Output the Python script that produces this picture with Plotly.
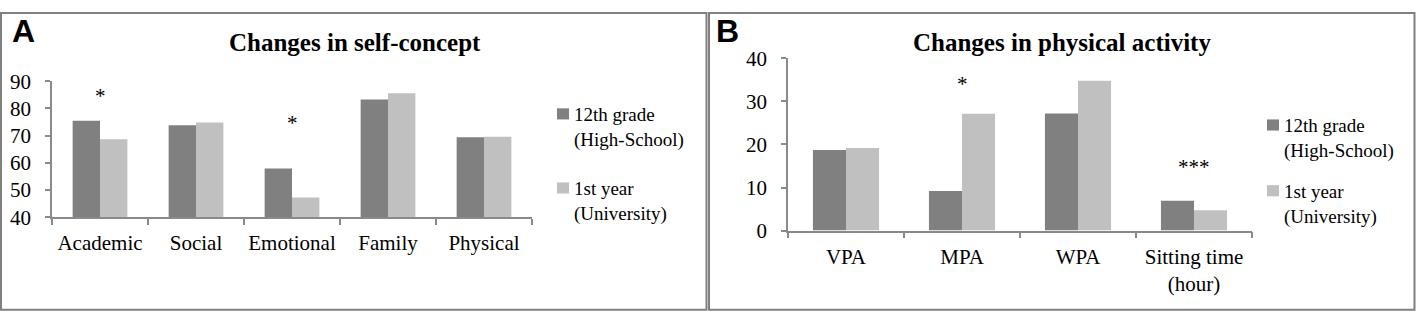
import plotly.graph_objects as go

W, H = 1417, 325

# ---------------- data ----------------
self_categories = ["Academic", "Social", "Emotional", "Family", "Physical"]
self_highschool = [75.5, 73.8, 57.9, 83.3, 69.4]
self_university = [68.7, 74.8, 47.3, 85.6, 69.6]
self_sig_cats = ["Academic", "Emotional"]
self_sig_labels = ["*", "*"]
self_sig_levels = [84.5, 74.5]

pa_categories = ["VPA", "MPA", "WPA", "Sitting time<br>(hour)"]
pa_highschool = [18.7, 9.2, 27.2, 6.9]
pa_university = [19.2, 27.1, 34.8, 4.7]
pa_sig_cats = ["MPA", "Sitting time<br>(hour)"]
pa_sig_labels = ["*", "***"]
pa_sig_levels = [34.0, 14.8]

series_names = ["12th grade<br>(High-School)", "1st year<br>(University)"]
self_ticks = [40, 50, 60, 70, 80, 90]
pa_ticks = [0, 10, 20, 30, 40]

# ---------------- style ----------------
DARK = "#808080"
LIGHT = "#c0c0c0"
AXC = "#8a8a8a"
SERIF = "Liberation Serif"
SANS = "Liberation Sans"


def fx(px):
    return px / W


def fy(py):
    return 1 - py / H


fig = go.Figure()
fig.add_trace(go.Bar(x=self_categories, y=self_highschool, name=series_names[0],
                     marker=dict(color=DARK, line=dict(width=0)), xaxis="x", yaxis="y", showlegend=False))
fig.add_trace(go.Bar(x=self_categories, y=self_university, name=series_names[1],
                     marker=dict(color=LIGHT, line=dict(width=0)), xaxis="x", yaxis="y", showlegend=False))
fig.add_trace(go.Bar(x=pa_categories, y=pa_highschool, name=series_names[0],
                     marker=dict(color=DARK, line=dict(width=0)), xaxis="x2", yaxis="y2", showlegend=False))
fig.add_trace(go.Bar(x=pa_categories, y=pa_university, name=series_names[1],
                     marker=dict(color=LIGHT, line=dict(width=0)), xaxis="x2", yaxis="y2", showlegend=False))

xcommon = dict(type="category", showline=True, linecolor=AXC, linewidth=1.5,
               ticks="outside", tickson="boundaries", ticklen=6, tickcolor=AXC, tickwidth=1.5,
               showgrid=False, zeroline=False, fixedrange=True, tickangle=0,
               tickfont=dict(family=SERIF, size=21, color="black"), ticklabelstandoff=6)
ycommon = dict(showline=True, linecolor=AXC, linewidth=1.5, ticks="outside", ticklen=5,
               tickcolor=AXC, tickwidth=1.5, showgrid=False, zeroline=False, fixedrange=True,
               tickfont=dict(family=SERIF, size=21, color="black"), ticklabelstandoff=10)

annotations = []
shapes = []

# Titles and panel letters
annotations += [
    dict(text="<b>Changes in self-concept</b>", x=fx(355), y=fy(33), xref="paper", yref="paper",
         showarrow=False, xanchor="center", yanchor="middle", font=dict(family=SERIF, size=25, color="black")),
    dict(text="<b>Changes in physical activity</b>", x=fx(1062), y=fy(33), xref="paper", yref="paper",
         showarrow=False, xanchor="center", yanchor="middle", font=dict(family=SERIF, size=25, color="black")),
    dict(text="<b>A</b>", x=fx(10), y=fy(21), xref="paper", yref="paper", showarrow=False,
         xanchor="left", yanchor="middle", font=dict(family=SANS, size=32, color="black")),
    dict(text="<b>B</b>", x=fx(714), y=fy(21), xref="paper", yref="paper", showarrow=False,
         xanchor="left", yanchor="middle", font=dict(family=SANS, size=32, color="black")),
]

# significance markers
for c, t, lv in zip(self_sig_cats, self_sig_labels, self_sig_levels):
    annotations.append(dict(text=t, x=c, y=lv, xref="x", yref="y", showarrow=False,
                            xanchor="center", yanchor="middle", font=dict(family=SERIF, size=21, color="black")))
for c, t, lv in zip(pa_sig_cats, pa_sig_labels, pa_sig_levels):
    annotations.append(dict(text=t, x=c, y=lv, xref="x2", yref="y2", showarrow=False,
                            xanchor="center", yanchor="middle", font=dict(family=SERIF, size=21, color="black")))

# legends (drawn as squares + text)
legend_specs = [
    (557, [(104, DARK, series_names[0], 97), (184, LIGHT, series_names[1], 177)]),
    (1267, [(116, DARK, series_names[0], 109), (187, LIGHT, series_names[1], 180)]),
]
for lx, items in legend_specs:
    for sq_top, col, name, txt_top in items:
        shapes.append(dict(type="rect", xref="paper", yref="paper", x0=fx(lx), x1=fx(lx + 12),
                           y0=fy(sq_top), y1=fy(sq_top + 12), fillcolor=col, line=dict(width=0)))
        annotations.append(dict(text=name, x=fx(lx + 15), y=fy(txt_top), xref="paper", yref="paper",
                                showarrow=False, xanchor="left", yanchor="top", align="left",
                                font=dict(family=SERIF, size=19, color="black")))

# panel borders
for x0, x1 in [(1, 706.5), (709, 1414.5)]:
    shapes.append(dict(type="rect", xref="paper", yref="paper", x0=fx(x0), x1=fx(x1),
                       y0=fy(1), y1=fy(321.5), line=dict(color="#808080", width=2), fillcolor="rgba(0,0,0,0)"))

fig.update_layout(
    width=W, height=H, margin=dict(l=0, r=0, t=0, b=0),
    paper_bgcolor="white", plot_bgcolor="white",
    barmode="group", bargap=0.43, bargroupgap=0,
    xaxis=dict(domain=[fx(52), fx(532)], anchor="y", **xcommon),
    yaxis=dict(domain=[fy(221.7), fy(74.7)], anchor="x", range=[40, 90], tickvals=self_ticks, **ycommon),
    xaxis2=dict(domain=[fx(788), fx(1252)], anchor="y2", **xcommon),
    yaxis2=dict(domain=[fy(236), fy(50)], anchor="x2", range=[0, 40], tickvals=pa_ticks, **ycommon),
    annotations=annotations, shapes=shapes, showlegend=False,
)

fig.write_html("out.html", config={"displayModeBar": False},
               post_script="document.body.style.margin='0';document.body.style.overflow='hidden';")
